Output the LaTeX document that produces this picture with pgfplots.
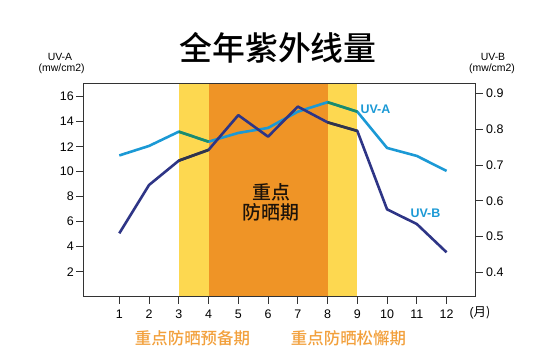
\documentclass[border=0pt]{standalone}
\usepackage{fontspec}
\setmainfont{Liberation Sans}
\newfontfamily\cjk{Noto Sans CJK SC}
\newfontfamily\cjkm[UprightFont=* Medium]{Noto Sans CJK SC}
\usepackage{pgfplots}
\pgfplotsset{compat=1.18}
\definecolor{uva}{HTML}{1B99D5}
\definecolor{uvag}{HTML}{1B8C6A}
\definecolor{uvb}{HTML}{2E3586}
\definecolor{uvbd}{HTML}{30344A}
\definecolor{bandy}{HTML}{FDD850}
\definecolor{bando}{HTML}{EF9426}
\definecolor{lbl}{HTML}{F2A03C}
\definecolor{frame}{HTML}{333333}
\begin{document}
\begin{tikzpicture}[x=1bp,y=1bp]
\path[use as bounding box] (0,0) rectangle (550,360);
\begin{axis}[at={(83.3bp,63.3bp)}, anchor=south west, scale only axis,
  width=392.4bp, height=213.4bp,
  xmin=-0.21, xmax=12.98, ymin=0, ymax=17.07,
  axis on top, axis line style={frame, line width=0.8bp},
  xtick={1,2,...,12}, ytick={2,4,...,16},
  xtick pos=bottom, ytick pos=left, tick align=outside,
  major tick length=7bp, tick style={frame, line width=0.7bp},
  tick label style={font=\fontsize{12.5}{14}\selectfont},
  /pgf/number format/assume math mode=true,
  yticklabel style={xshift=1bp},
  xticklabel style={yshift=-3bp},
  every axis plot/.append style={no marks, line join=round}]
\addplot[draw=none, fill=bandy] coordinates {(3,0) (4,0) (4,17.07) (3,17.07)} -- cycle;
\addplot[draw=none, fill=bandy] coordinates {(8,0) (9,0) (9,17.07) (8,17.07)} -- cycle;
\addplot[draw=none, fill=bando] coordinates {(4,0) (8,0) (8,17.07) (4,17.07)} -- cycle;
\addplot[uva, line width=2.6bp] coordinates {(1,11.3) (2,12.06) (3,13.2) (4,12.4) (5,13.1) (6,13.5) (7,14.8) (8,15.56) (9,14.8) (10,11.9) (11,11.26) (12,10.06)};
\addplot[uvag, line width=2.6bp] coordinates {(3,13.2) (4,12.4)};
\addplot[uvag, line width=2.6bp] coordinates {(8,15.56) (9,14.8)};
\end{axis}
\begin{axis}[at={(83.3bp,63.3bp)}, anchor=south west, scale only axis,
  width=392.4bp, height=213.4bp,
  xmin=-0.21, xmax=12.98, ymin=0.332, ymax=0.928,
  axis line style={frame, line width=0.8bp},
  xtick=\empty, ytick={0.4,0.5,0.6,0.7,0.8,0.9},
  ytick pos=right, tick align=outside,
  major tick length=7bp, tick style={frame, line width=0.7bp},
  tick label style={font=\fontsize{12.5}{14}\selectfont},
  /pgf/number format/assume math mode=true,
  yticklabel style={/pgf/number format/.cd, fixed, fixed zerofill, precision=1},
  every axis plot/.append style={no marks, line join=round}]
\addplot[uvb, line width=2.6bp] coordinates {(1,0.509) (2,0.644) (3,0.712) (4,0.742) (5,0.839) (6,0.779) (7,0.863) (8,0.819) (9,0.795) (10,0.576) (11,0.535) (12,0.456)};
\addplot[uvbd, line width=2.6bp] coordinates {(3,0.712) (4,0.742)};
\addplot[uvbd, line width=2.6bp] coordinates {(8,0.819) (9,0.795)};
\end{axis}
% texts
\node[font=\cjkm\fontsize{33}{36}\selectfont] at (278,312) {全年紫外线量};
\node[font=\fontsize{10.5}{12}\selectfont, inner sep=1bp] at (60,303.5) {UV-A};
\node[font=\fontsize{10.5}{12}\selectfont, inner sep=1bp] at (61.7,291.5) {(mw/cm2)};
\node[font=\fontsize{10.5}{12}\selectfont, inner sep=1bp] at (493,303.5) {UV-B};
\node[font=\fontsize{10.5}{12}\selectfont, inner sep=1bp] at (492,291.5) {(mw/cm2)};
\node[font=\fontsize{12.5}{14}\selectfont, anchor=west] at (466,47) {(\cjk 月)};
\node[font=\cjkm\fontsize{19}{22}\selectfont, text=black!85!brown] at (271,168) {重点};
\node[font=\cjkm\fontsize{19}{22}\selectfont, text=black!85!brown] at (271,148) {防晒期};
\node[font=\bfseries\fontsize{12.5}{14}\selectfont, text=uva, anchor=west] at (357,251) {UV-A};
\node[font=\bfseries\fontsize{12.5}{14}\selectfont, text=uva, anchor=west] at (407,147) {UV-B};
\node[font=\cjkm\fontsize{16.5}{18}\selectfont, text=lbl] at (192.5,22) {重点防晒预备期};
\node[font=\cjkm\fontsize{16.5}{18}\selectfont, text=lbl] at (348.5,22) {重点防晒松懈期};
\end{tikzpicture}
\end{document}
